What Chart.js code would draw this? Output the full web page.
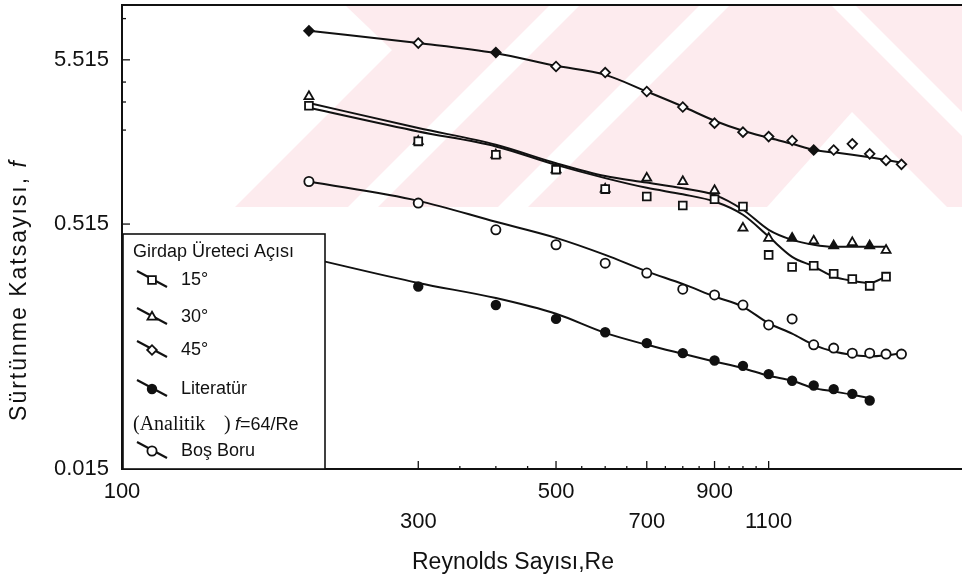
<!DOCTYPE html>
<html>
<head>
<meta charset="utf-8">
<script src="https://cdn.jsdelivr.net/npm/chart.js@4.4.0/dist/chart.umd.min.js"></script>
<style>
  html, body { margin: 0; padding: 0; background: #fff; }
</style>
</head>
<body>
<canvas id="myChart" width="962" height="584"></canvas>
<script>
// Reynolds sayıları (ölçüm noktaları)
const reynolds = [200, 300, 400, 500, 600, 700, 800, 900, 1000, 1100, 1200, 1300, 1400, 1500, 1600, 1700, 1800];

// ölçülen sürtünme katsayısı (işaretler)
const f15  = [2.84, 1.70, 1.40, 1.13, 0.853, 0.766, 0.673, 0.738, 0.663, 0.330, 0.277, 0.282, 0.251, 0.233, 0.211, 0.241, null];
const f30  = [3.25, 1.70, 1.40, 1.13, 0.853, 1.00, 0.952, 0.836, 0.486, 0.420, 0.420, 0.404, 0.376, 0.394, 0.376, 0.353, null];
const f45  = [8.38, 7.02, 6.13, 5.01, 4.59, 3.49, 2.79, 2.21, 1.94, 1.82, 1.72, 1.50, 1.50, 1.64, 1.42, 1.29, 1.22];
const fLit = [null, 0.209, 0.160, 0.131, 0.108, 0.0923, 0.0799, 0.0718, 0.0665, 0.0590, 0.0536, 0.0501, 0.0475, 0.0444, 0.0403, null, null];
const fBos = [0.952, 0.697, 0.474, 0.382, 0.293, 0.254, 0.201, 0.185, 0.160, 0.120, 0.131, 0.0901, 0.0859, 0.0799, 0.0799, 0.0788, 0.0788];

// eğri uydurma çizgileri
const fit15  = [2.76, 1.96, 1.58, 1.21, 1.00, 0.869, 0.791, 0.713, 0.589, 0.430, 0.321, 0.279, 0.241, 0.227, 0.220, 0.241, null];
const fit30  = [2.96, 2.06, 1.62, 1.24, 1.03, 0.938, 0.863, 0.785, 0.633, 0.474, 0.410, 0.382, 0.371, 0.371, 0.371, 0.371, null];
const fit45  = [8.38, 7.02, 6.07, 5.06, 4.44, 3.49, 2.81, 2.29, 1.98, 1.79, 1.64, 1.50, 1.45, 1.40, 1.35, 1.30, 1.25];
const fitLit = [0.316, 0.220, 0.177, 0.141, 0.107, 0.0901, 0.0791, 0.0708, 0.0642, 0.0576, 0.0536, 0.0482, 0.0460, 0.0438, 0.0417, null, null];
const fitBos = [0.952, 0.720, 0.532, 0.422, 0.330, 0.260, 0.217, 0.181, 0.156, 0.123, 0.106, 0.0901, 0.0818, 0.0780, 0.0761, 0.0774, 0.0799];

// eksen işaretleri
const xTicks = [100, 300, 500, 700, 900, 1100];
const xMinor = [350, 400, 450, 550, 600, 650, 750, 800, 850, 950, 1000, 1050];
const yTicks = [0.015, 0.515, 5.515];
const yMinor = [2, 3, 4, 10];

const INK = '#111';
const SANS = '"Liberation Sans", Arial, sans-serif';

const pts = (vals) => reynolds.map((re, i) => ({ x: re, y: vals[i] }));
const filledAt = (list) => reynolds.map(re => list.includes(re) ? INK : '#fff');

function markers(label, vals, style, radius, bg, row) {
  return {
    label: label, data: pts(vals), showLine: false, order: 0,
    pointStyle: style, pointRadius: radius, pointBorderWidth: 1.8,
    pointBorderColor: INK, pointBackgroundColor: bg, legendRow: row
  };
}
function curve(vals) {
  return {
    label: '', data: pts(vals), order: 1, borderColor: INK, borderWidth: 2,
    pointRadius: 0, cubicInterpolationMode: 'monotone', fill: false
  };
}

function line(ctx, x1, y1, x2, y2) {
  ctx.beginPath(); ctx.moveTo(x1, y1); ctx.lineTo(x2, y2); ctx.stroke();
}

const paper = {
  id: 'paper',
  beforeDraw(chart) {
    const { ctx, chartArea: a } = chart;
    ctx.save();
    ctx.fillStyle = '#fff';
    ctx.fillRect(0, 0, chart.width, chart.height);
    // soluk pembe filigran
    ctx.beginPath();
    ctx.rect(230, a.top, a.right - 230, 202);
    ctx.clip();
    ctx.fillStyle = '#fdebee';
    ctx.fillRect(230, a.top, a.right - 230, 202);
    ctx.fillStyle = '#fff';
    const polys = [
      [[230, 5], [345, 5], [392, 50], [230, 212]],
      [[550, 5], [580, 5], [378, 207], [348, 207]],
      [[700, 5], [730, 5], [528, 207], [498, 207]],
      [[767, 207], [852, 112], [947, 207]],
      [[831, 5], [855, 5], [1057, 207], [1033, 207]]
    ];
    polys.forEach(p => {
      ctx.beginPath();
      p.forEach((q, i) => i ? ctx.lineTo(q[0], q[1]) : ctx.moveTo(q[0], q[1]));
      ctx.closePath();
      ctx.fill();
    });
    ctx.restore();
  },
  afterDraw(chart) {
    const { ctx, chartArea: a } = chart;
    const x = chart.scales.x, y = chart.scales.y;
    ctx.save();
    ctx.strokeStyle = INK;
    ctx.lineWidth = 2;
    line(ctx, a.left, a.top, a.right, a.top);

    // içe dönük çentikler
    ctx.lineWidth = 1.3;
    xTicks.forEach(v => { const p = x.getPixelForValue(v); line(ctx, p, a.bottom, p, a.bottom - 8); });
    xMinor.forEach(v => { const p = x.getPixelForValue(v); line(ctx, p, a.bottom, p, a.bottom - 3); });
    yTicks.forEach(v => { const p = y.getPixelForValue(v); line(ctx, a.left, p, a.left + 8, p); });
    yMinor.forEach(v => { const p = y.getPixelForValue(v); line(ctx, a.left, p, a.left + 4, p); });

    // gösterge kutusu
    const bx = a.left + 1, by = 234, bw = 202, bh = a.bottom - 234;
    ctx.fillStyle = '#fff';
    ctx.fillRect(bx, by, bw, bh);
    ctx.lineWidth = 1.6;
    ctx.strokeRect(bx, by, bw, bh);

    ctx.fillStyle = INK;
    ctx.textBaseline = 'middle';
    ctx.textAlign = 'left';
    ctx.font = '18px ' + SANS;
    ctx.fillText('Girdap Üreteci Açısı', 133, 252);

    const rows = [280, 317, 350, 389, 451];
    chart.data.datasets.forEach(ds => {
      if (ds.legendRow === undefined) return;
      const ry = rows[ds.legendRow];
      ctx.lineWidth = 2;
      ctx.strokeStyle = INK;
      line(ctx, 137, ry - 9, 167, ry + 7);
      ctx.fillStyle = ds.legendFill || '#fff';
      ctx.lineWidth = 1.8;
      Chart.helpers.drawPoint(ctx, { pointStyle: ds.pointStyle, radius: ds.pointRadius, borderWidth: 1.8, rotation: 0 }, 152, ry);
      ctx.fillStyle = INK;
      ctx.font = '18px ' + SANS;
      ctx.fillText(ds.label, 181, ry);
    });

    // (Analitik ) f=64/Re
    ctx.font = '20px "Liberation Serif", "Times New Roman", serif';
    ctx.fillText('(Analitik', 133, 425);
    ctx.fillText(')', 224, 425);
    ctx.font = 'italic 18px ' + SANS;
    ctx.fillText('f', 235, 425);
    const fw = ctx.measureText('f').width;
    ctx.font = '18px ' + SANS;
    ctx.fillText('=64/Re', 235 + fw, 425);

    // eksen başlıkları
    ctx.textAlign = 'center';
    ctx.font = '23px ' + SANS;
    ctx.fillText('Reynolds Sayısı,Re', 513, 563);

    ctx.translate(20, 290);
    ctx.rotate(-Math.PI / 2);
    ctx.textAlign = 'left';
    ctx.letterSpacing = '2px';
    const head = 'Sürtünme Katsayısı, ';
    ctx.font = '23px ' + SANS;
    const hw = ctx.measureText(head).width;
    ctx.font = 'italic 23px ' + SANS;
    const tw = hw + ctx.measureText('f').width;
    ctx.font = '23px ' + SANS;
    ctx.fillText(head, -tw / 2, 0);
    ctx.font = 'italic 23px ' + SANS;
    ctx.fillText('f', -tw / 2 + hw, 0);
    ctx.restore();
  }
};

const ds15 = markers('15°', f15, 'rect', 5.5, '#fff', 0);
const ds30 = markers('30°', f30, 'triangle', 5.2, filledAt([1200, 1400, 1600]), 1);
const ds45 = markers('45°', f45, 'rectRot', 4.8, filledAt([200, 400, 1300]), 2);
const dsLit = markers('Literatür', fLit, 'circle', 4.3, INK, 3);
dsLit.legendFill = INK;
const dsBos = markers('Boş Boru', fBos, 'circle', 4.6, '#fff', 4);

new Chart(document.getElementById('myChart'), {
  type: 'line',
  data: {
    datasets: [ds15, ds30, ds45, dsLit, dsBos,
      curve(fit15), curve(fit30), curve(fit45), curve(fitLit), curve(fitBos)]
  },
  options: {
    responsive: false,
    animation: false,
    layout: { autoPadding: false, padding: { top: 5, left: 0, right: 0, bottom: 0 } },
    plugins: { legend: { display: false }, tooltip: { enabled: false } },
    scales: {
      x: {
        type: 'logarithmic', min: 100, max: 2253,
        grid: { display: false, drawTicks: false },
        border: { display: true, color: INK, width: 2 },
        afterBuildTicks: s => { s.ticks = xTicks.map(v => ({ value: v })); },
        afterFit: s => { s.height = 115; s.paddingLeft = 0; s.paddingRight = 0; },
        ticks: {
          autoSkip: false, maxRotation: 0, padding: 8, color: INK,
          font: { family: SANS, size: 22, lineHeight: 30 / 22 },
          callback: (v, i) => i % 2 === 0 ? [String(v), ''] : ['', String(v)]
        }
      },
      y: {
        type: 'logarithmic', min: 0.015, max: 12.17,
        grid: { display: false, drawTicks: false },
        border: { display: true, color: INK, width: 2 },
        afterBuildTicks: s => { s.ticks = yTicks.map(v => ({ value: v })); },
        afterFit: s => { s.width = 122; s.paddingTop = 0; s.paddingBottom = 0; },
        ticks: {
          autoSkip: false, padding: 13, color: INK,
          font: { family: SANS, size: 22 },
          callback: v => Number(v).toFixed(3)
        }
      }
    }
  },
  plugins: [paper]
});
</script>
</body>
</html>
